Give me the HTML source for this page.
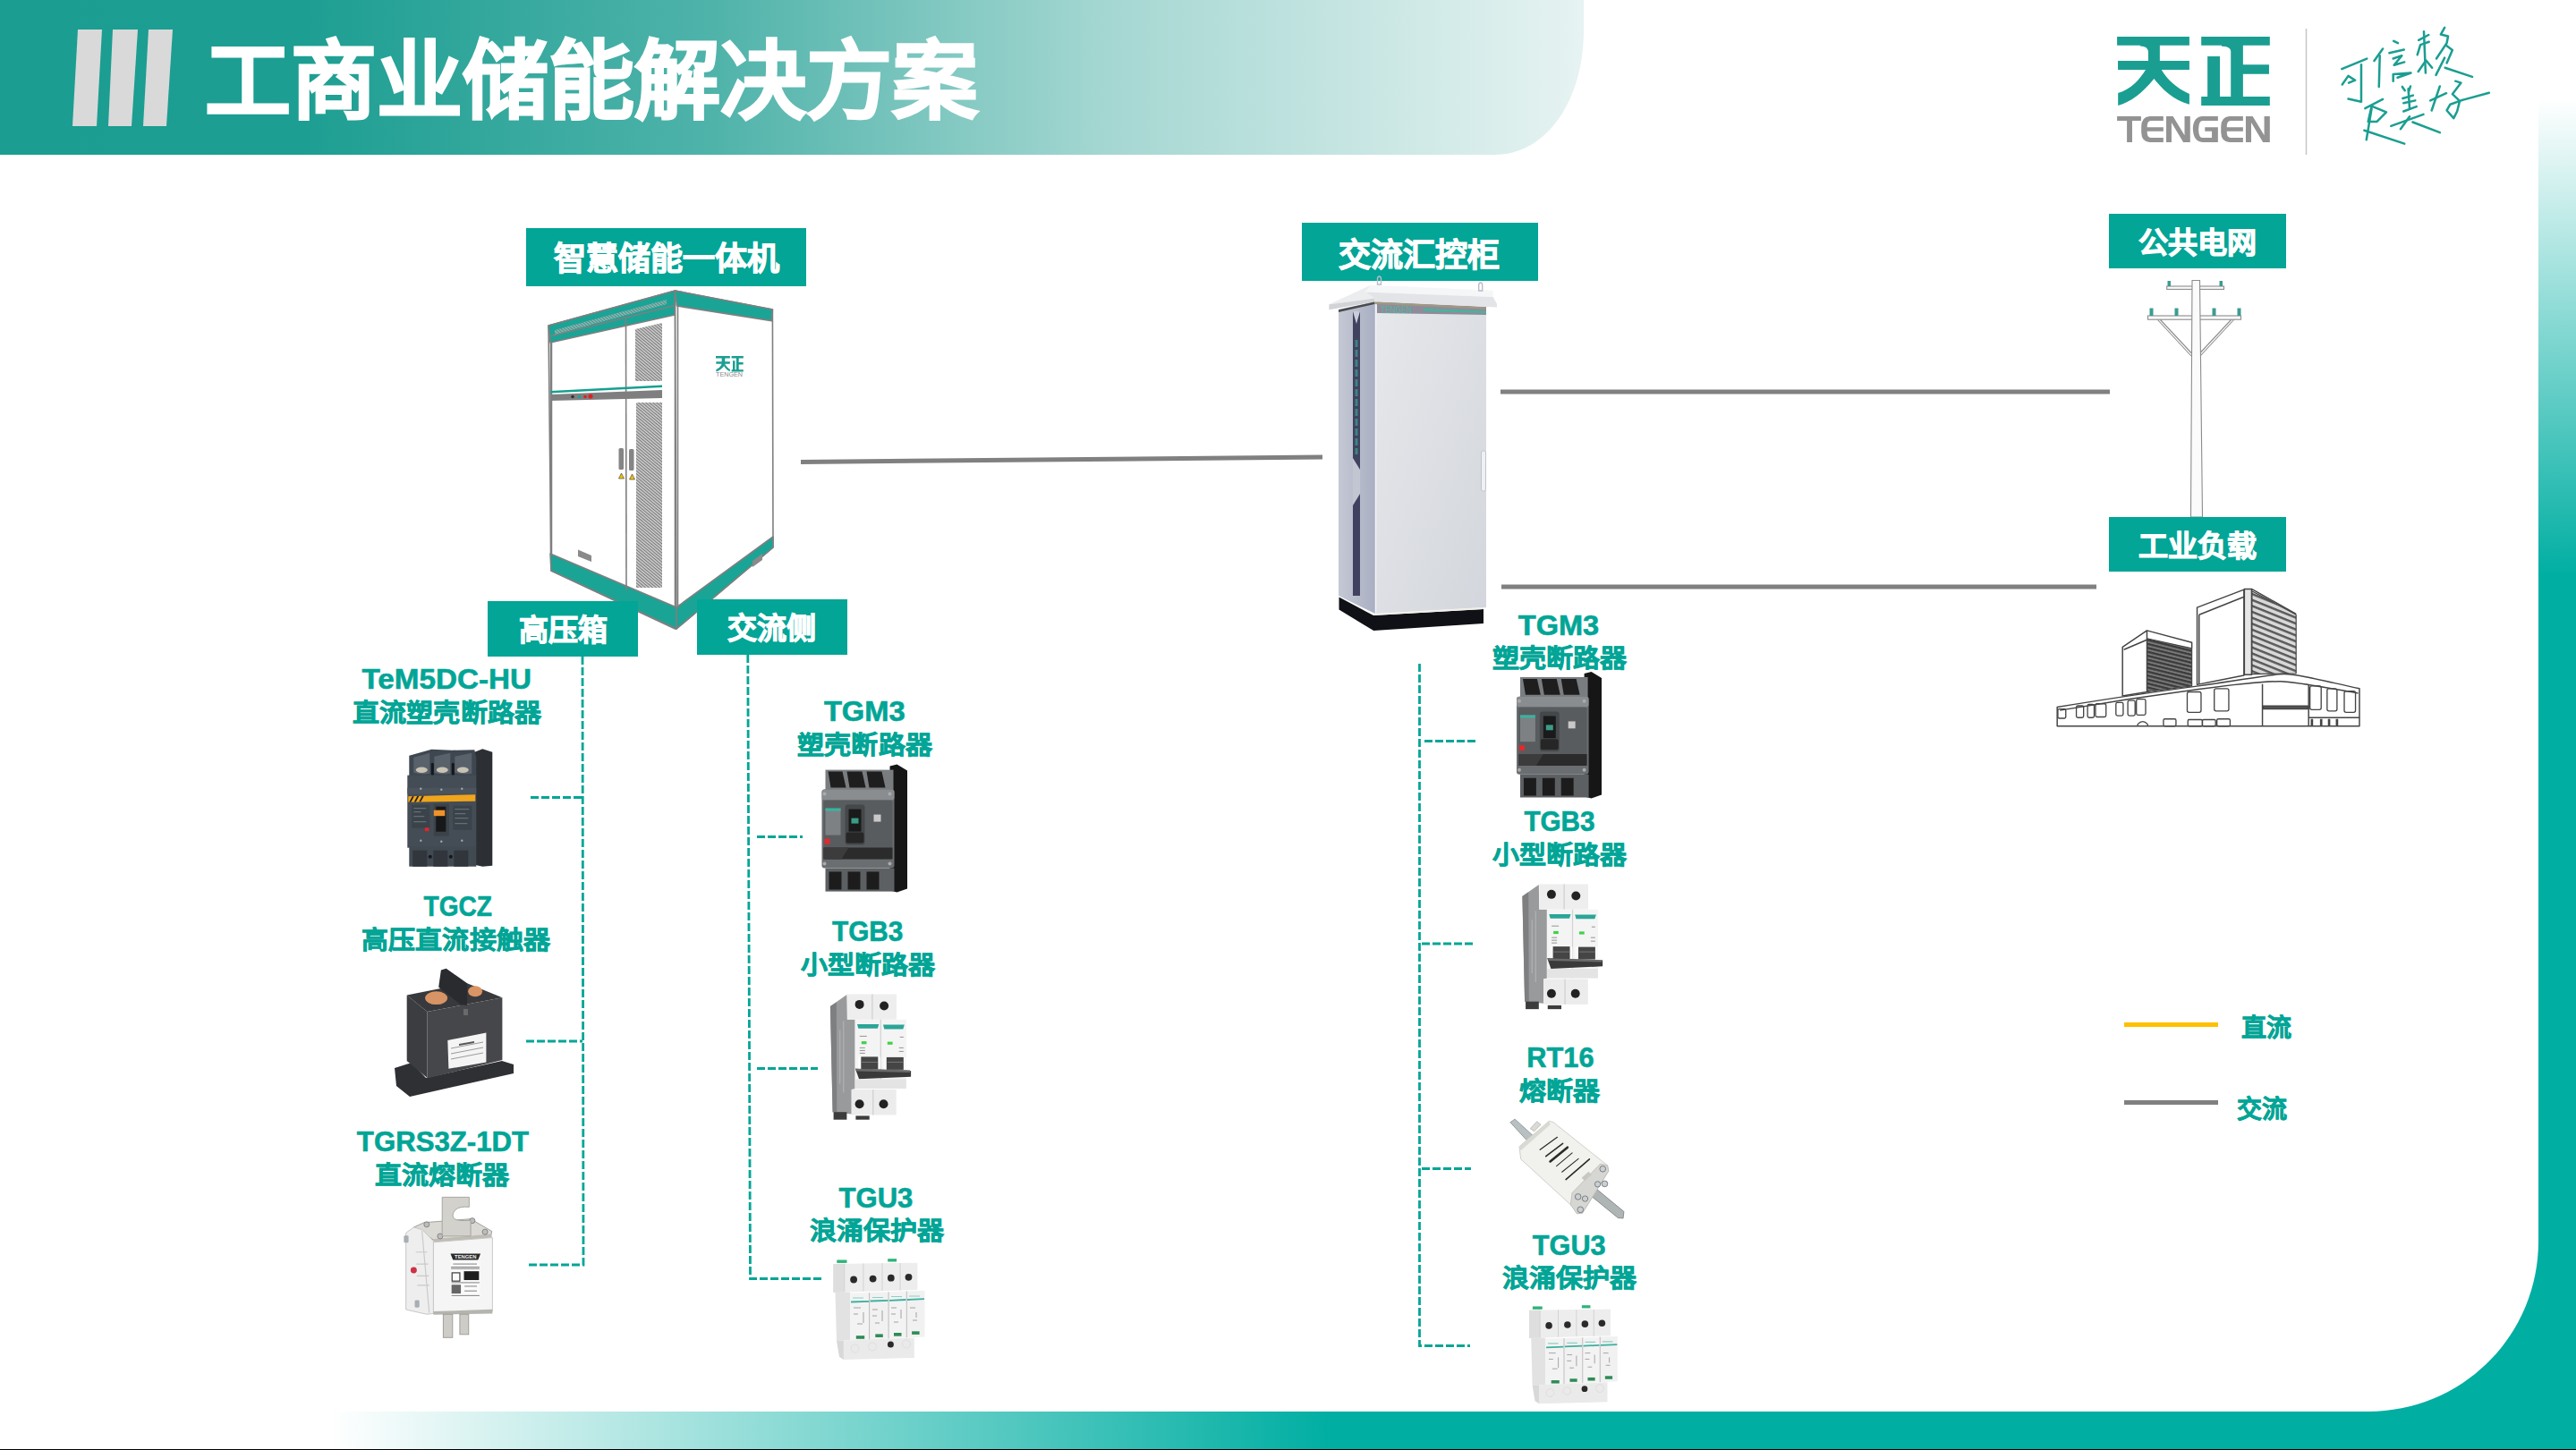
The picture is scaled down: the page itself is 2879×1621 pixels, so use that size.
<!DOCTYPE html>
<html lang="zh-CN"><head><meta charset="utf-8">
<style>
html,body{margin:0;padding:0;background:#fff;}
body{width:2879px;height:1621px;position:relative;overflow:hidden;font-family:"Liberation Sans",sans-serif;}
svg{position:absolute;left:0;top:0;}
.t{font-family:"Liberation Sans",sans-serif;font-weight:bold;}
</style></head>
<body>
<svg width="2879" height="1621" viewBox="0 0 2879 1621">

<defs>
<linearGradient id="hdr" x1="0" y1="0" x2="1770" y2="0" gradientUnits="userSpaceOnUse">
  <stop offset="0" stop-color="#1B9D91"/>
  <stop offset="0.19" stop-color="#1D9E92"/>
  <stop offset="0.45" stop-color="#4FB3AA"/>
  <stop offset="0.7" stop-color="#A5D7D2"/>
  <stop offset="1" stop-color="#E6F3F2"/>
</linearGradient>
<linearGradient id="rband" x1="0" y1="110" x2="0" y2="645" gradientUnits="userSpaceOnUse">
  <stop offset="0" stop-color="#FFFFFF"/>
  <stop offset="1" stop-color="#00AEA2"/>
</linearGradient>
<linearGradient id="bband" x1="370" y1="0" x2="1490" y2="0" gradientUnits="userSpaceOnUse">
  <stop offset="0" stop-color="#FFFFFF"/>
  <stop offset="1" stop-color="#00AEA2"/>
</linearGradient>
<pattern id="vent" width="2.6" height="2.6" patternUnits="userSpaceOnUse" patternTransform="rotate(40)">
  <rect width="2.6" height="2.6" fill="#D0D0D0"/>
  <rect width="2.6" height="1.1" fill="#777777"/>
</pattern>
<pattern id="louver" width="40" height="45" patternUnits="userSpaceOnUse" patternTransform="skewY(22)">
  <rect width="40" height="45" fill="#D8D8D8"/>
  <rect width="40" height="18" fill="#5A5A5A"/>
</pattern>
<pattern id="louver2" width="40" height="30" patternUnits="userSpaceOnUse" patternTransform="skewY(14)">
  <rect width="40" height="30" fill="#7A7A7A"/>
  <rect width="40" height="16" fill="#3A3A3A"/>
</pattern>
<linearGradient id="acside" x1="0" y1="0" x2="1" y2="0">
  <stop offset="0" stop-color="#C5C9D5"/>
  <stop offset="1" stop-color="#A9AFC2"/>
</linearGradient>
<linearGradient id="acfront" x1="0" y1="0" x2="1" y2="1">
  <stop offset="0" stop-color="#E6E8EB"/>
  <stop offset="1" stop-color="#D3D6DC"/>
</linearGradient>
</defs>

<path d="M0 0 H1770 V34 C1770 110 1730 173 1670 173 H0 Z" fill="url(#hdr)"/>
<polygon points="87,33 114,33 108,141 81,141" fill="#D9D9D9"/>
<polygon points="126,33 154,33 147,141 121,141" fill="#D9D9D9"/>
<polygon points="166,33 193,33 186,141 160,141" fill="#D9D9D9"/>
<path d="M2837 110 H2879 V1621 H0 V1578 H2647 A190 190 0 0 0 2837 1388 Z" fill="#00AEA2"/>
<rect x="2837" y="110" width="42" height="540" fill="url(#rband)"/>
<rect x="370" y="1578" width="1125" height="42" fill="url(#bband)"/>
<rect x="0" y="1578" width="370" height="42" fill="#fff"/>
<rect x="0" y="1620" width="2879" height="1" fill="#000"/>

<text class="t" x="229" y="124" font-size="96" fill="#fff" stroke="#fff" stroke-width="2">工商业储能解决方案</text>

<g transform="translate(2360,35) scale(0.071818)" fill="#1A9E91">
<path d="M85,85 H1210 V220 H85 Z M445,220 H750 V460 H570 V330 Q570,232 445,230 Z M98,460 H1210 V598 H98 Z M530,598 L780,598 L660,738 C480,960 300,1100 100,1155 V962 C300,900 430,760 530,598 Z M630,700 L770,590 C870,760 1000,880 1210,975 V1140 C950,1060 800,920 630,700 Z M1395,85 H2462 V220 H1395 Z M1712,220 H2045 V1020 H1855 V310 Q1855,232 1712,232 Z M2045,517 H2450 V665 H2045 Z M1492,390 H1685 V1020 H1492 Z M1395,1018 H2462 V1155 H1395 Z"/>
</g>
<g transform="translate(2360,120) scale(0.071818)" fill="#939393">
<path d="M85,140 H458 V208 H320 V542 H238 V208 H85 Z"/>
<path d="M805,140 H590 Q465,150 462,300 V390 Q465,532 590,542 H805 V475 H610 Q556,470 553,395 V372 H805 V310 H553 V290 Q556,212 610,208 H805 Z"/>
<path d="M850,140 H955 L1135,435 V140 H1222 V542 H1115 L932,235 V542 H850 Z"/>
<path d="M1655,140 H1415 Q1270,150 1265,330 Q1270,532 1415,542 H1655 V310 H1452 V372 H1560 V475 H1410 Q1356,468 1352,340 Q1356,212 1410,208 H1655 Z"/>
<path transform="translate(1240,0)" d="M805,140 H590 Q465,150 462,300 V390 Q465,532 590,542 H805 V475 H610 Q556,470 553,395 V372 H805 V310 H553 V290 Q556,212 610,208 H805 Z"/>
<path d="M2088,140 H2195 L2375,435 V140 H2462 V542 H2355 L2172,235 V542 H2088 Z"/>
</g>
<line x1="2577.5" y1="32" x2="2577.5" y2="173" stroke="#C4C4C4" stroke-width="1.5"/>

<g transform="translate(2610,25) scale(0.096562)" fill="none" stroke="#1A9E91" stroke-width="26" stroke-linecap="round" stroke-linejoin="round">
<polyline points="75,540 365,420"/>
<polyline points="80,720 150,620 230,670 155,700"/>
<polyline points="300,490 300,920 150,885"/>
<polyline points="550,305 450,445"/>
<polyline points="515,385 505,745"/>
<polyline points="675,215 725,240"/>
<polyline points="625,355 795,315"/>
<polyline points="670,420 770,385 680,495 800,460"/>
<polyline points="670,680 670,600 875,585 720,640"/>
<polyline points="965,205 1080,145"/>
<polyline points="1025,105 1045,585"/>
<polyline points="950,375 985,260 1085,225"/>
<polyline points="960,570 1050,440 1120,525"/>
<polyline points="1265,60 1220,140 1305,160 1290,240 1170,420"/>
<polyline points="1280,265 1355,320 1290,470"/>
<polyline points="1265,410 1165,610"/>
<polyline points="1270,525 1585,630"/>
<polyline points="345,995 550,890"/>
<polyline points="380,1150 420,970 590,1040 480,1150 380,1150"/>
<polyline points="420,1000 360,1360"/>
<polyline points="335,1250 800,1405"/>
<polyline points="775,745 805,790"/>
<polyline points="870,740 850,800"/>
<polyline points="780,880 900,845"/>
<polyline points="790,935 925,905"/>
<polyline points="790,1030 940,975"/>
<polyline points="845,770 860,1000"/>
<polyline points="645,1200 1020,1065"/>
<polyline points="860,1090 755,1235"/>
<polyline points="895,1155 1210,1275"/>
<polyline points="1210,740 1115,1020"/>
<polyline points="1100,905 1285,820"/>
<polyline points="1390,680 1455,700 1355,830 1440,910 1410,1030 1370,1110 1290,1020 1330,950 1470,900"/>
<polyline points="1470,900 1780,815"/>
</g>

<g id="ess" stroke="#7F7F7F" stroke-width="1.6" stroke-linejoin="round">
<polygon points="613,364 754.5,325 754.5,703 616,638" fill="#fff"/>
<polygon points="754.5,325 863.4,346 864,612 756,703" fill="#fff"/>
<polygon points="613,364 754.5,325 754,352 615,383" fill="#1AA496"/>
<polygon points="754.5,325 863.4,346 862.5,358.6 756.5,342" fill="#1AA496"/>
<polygon points="615,619 756,679 756,703 616,638" fill="#1AA496"/>
<polygon points="756,679 864,600 864,612 756,703" fill="#1AA496"/>
</g>
<g fill="none" stroke="#7F7F7F">
<line x1="614" y1="376" x2="754" y2="341.5" stroke-width="1.6"/>
<polygon points="620,369 745,335 745,340 620,374" fill="url(#vent)" stroke="none" opacity="0.6"/>
<line x1="699.5" y1="356" x2="700" y2="660" stroke-width="1.6"/>
<line x1="757.5" y1="342" x2="757.5" y2="680" stroke-width="1.6"/>
<line x1="616" y1="383" x2="616" y2="619" stroke-width="2.5"/>
</g>
<polygon points="710,368 740,361 740,426 710,426" fill="url(#vent)"/>
<rect x="711" y="450" width="29" height="207" fill="url(#vent)"/>
<polygon points="615,437 740,430.5 740,433 615,439.5" fill="#16A090"/>
<polygon points="615,441 740,436 740,445 615,448" fill="#7F7F7F"/>
<circle cx="640" cy="443.5" r="1.8" fill="#333"/>
<circle cx="647.5" cy="443.5" r="1.8" fill="#1AA496"/>
<circle cx="654" cy="443.5" r="1.8" fill="#E02020"/>
<circle cx="660" cy="443" r="2.6" fill="#E02020"/>
<rect x="691.5" y="501" width="5.5" height="24" rx="1.5" fill="#858585"/>
<rect x="703" y="502" width="5.5" height="24" rx="1.5" fill="#858585"/>
<polygon points="694.5,529 697.5,535 691.5,535" fill="#F2C200" stroke="#333" stroke-width="0.6"/>
<polygon points="706.5,530 709.5,536 703.5,536" fill="#F2C200" stroke="#333" stroke-width="0.6"/>
<polygon points="646,614.5 661,621 661,628 646,622" fill="#8A8A8A"/>
<polygon points="841,627 852,619 852,626 841,634" fill="#8A8A8A"/>
<g transform="translate(800,398) scale(0.176)" fill="#1A9E91">
<path d="M0,0 H90 V14 H0 Z M38,14 H58 V36 H38 Z M2,36 H90 V50 H2 Z M38,50 C30,68 18,80 2,86 V100 C22,94 40,80 52,64 L60,50 Z M52,64 C62,80 75,92 90,98 V84 C78,78 66,66 60,52 Z"/>
<path d="M100,0 H175 V14 H100 Z M130,14 H146 V86 H130 Z M146,40 H174 V54 H146 Z M108,30 H122 V86 H108 Z M100,86 H175 V100 H100 Z"/>
</g>
<text x="815" y="420.5" font-size="7.6" text-anchor="middle" fill="#8A8A8A" textLength="30" lengthAdjust="spacingAndGlyphs">TENGEN</text>

<g id="acc">
<polygon points="1496,346 1537,337 1537,686 1496,666" fill="url(#acside)"/>
<polygon points="1537,337 1661,343 1661,679 1537,686" fill="url(#acfront)"/>
<line x1="1537.5" y1="337" x2="1537.5" y2="686" stroke="#F4F4F6" stroke-width="1.5"/>
<polygon points="1539,337 1661,343 1661,352 1539,350" fill="#8F8B9B"/>
<text x="1543" y="350" font-size="11" fill="#4FB89F" textLength="35" lengthAdjust="spacingAndGlyphs">TENGEN</text>
<polygon points="1591,345 1661,348 1661,350 1591,347.5" fill="#3FB89A"/>
<polygon points="1512,348 1520,348 1520,666 1512,666" fill="#414260"/>
<polygon points="1512,348 1516,362 1520,348" fill="#C9CDD8"/>
<polygon points="1512,512 1520,525 1520,552 1512,565" fill="#C2C6D2"/>
<path d="M1516,380 V508" stroke="#3A9C88" stroke-width="3" stroke-dasharray="8 3" opacity="0.75"/>
<rect x="1655.5" y="504" width="5" height="45" rx="2" fill="#EEF0F4" stroke="#B8BCC6" stroke-width="0.8"/>
<polygon points="1485.4,340.3 1531.8,318.8 1526,326.5 1536.2,333.6" fill="#ECEDEF"/>
<polygon points="1531.8,318.8 1668.6,324.8 1668.6,332 1526,326.5" fill="#F5F6F7"/>
<polygon points="1526,326.5 1668.6,332 1673,339.7 1673,343.5 1536.2,337.5 1536.2,333.6" fill="#E3E4E7"/>
<polygon points="1485.4,340.3 1536.2,333.6 1536.2,337.5 1485.4,346.3" fill="#D2D3D6"/>
<polygon points="1496,346.3 1536.2,337.5 1536.2,340 1496,349" fill="#4A4B50"/>
<polygon points="1536.2,337.5 1661,343.5 1661,345.5 1536.2,340" fill="#A09882"/>
<polygon points="1496.5,667.6 1535,688 1658,681 1658,697 1535.2,705 1496.5,681.4" fill="#101116"/>
<polygon points="1535,686 1658,679 1658,681 1535,688" fill="#F0EFEA"/>
</g>

<g id="pole" stroke="#8C8C8C" stroke-width="1.1" fill="#FBFBFB">
<line x1="2411" y1="357" x2="2449" y2="398"/>
<line x1="2414" y1="357" x2="2449.5" y2="395"/>
<line x1="2497" y1="357" x2="2459" y2="398"/>
<line x1="2494" y1="357" x2="2458.5" y2="395"/>
<rect x="2421.7" y="320" width="63.8" height="3.4"/>
<rect x="2400.5" y="353" width="104" height="4.2"/>
<polygon points="2450,313.5 2458.5,313.5 2461.5,578 2448.5,578"/>
</g>
<g fill="#3C9C8F">
<rect x="2422.5" y="314" width="3.5" height="6"/>
<rect x="2480.5" y="314" width="3.5" height="6"/>
<rect x="2402.5" y="344.5" width="4" height="8.5"/>
<rect x="2430.5" y="344.5" width="4" height="8.5"/>
<rect x="2472.5" y="344.5" width="4" height="8.5"/>
<rect x="2500.5" y="344.5" width="4" height="8.5"/>
</g>

<g transform="translate(2280,640) scale(0.14751)" fill="none" stroke="#444" stroke-width="10" stroke-linejoin="round">
<polygon points="1605,140 1940,320 1940,765 1605,770" fill="url(#louver)" stroke-width="8"/>
<polygon points="810,500 1150,575 1150,860 810,905" fill="url(#louver2)" stroke-width="8"/>
<polygon points="1190,265 1545,130 1545,780 1190,850" fill="#fff"/>
<path d="M1205,320 L1545,185 M1205,320 V845"/>
<rect x="1548" y="125" width="55" height="650" fill="#E6E6E6"/>
<path d="M1603,125 L1940,315"/>
<polygon points="625,565 810,440 810,905 625,935" fill="#fff"/>
<path d="M635,585 L810,510 M810,440 L1150,530 L1150,575"/>
<path d="M130,1020 C500,960 900,900 1200,860 C1500,820 1750,770 1850,770 C1950,770 2100,810 2420,880 V1165 H130 Z" fill="#fff"/>
<path d="M150,1045 C500,985 900,925 1200,885 C1500,845 1720,825 1820,825 C1920,825 2100,860 2410,915"/>
<path d="M1685,845 V1165 M2035,855 V1165 M2035,1100 H2420"/>
<rect x="1690" y="1012" width="340" height="22" fill="#555"/>
<g stroke-width="9">
<rect x="275" y="1010" width="55" height="90" rx="12"/>
<rect x="360" y="1000" width="50" height="100" rx="12"/>
<rect x="420" y="995" width="80" height="100" rx="12"/>
<rect x="575" y="985" width="55" height="100" rx="12"/>
<rect x="665" y="970" width="55" height="115" rx="12"/>
<rect x="730" y="960" width="70" height="120" rx="12"/>
<rect x="1115" y="905" width="105" height="155" rx="14"/>
<rect x="1320" y="880" width="110" height="170" rx="14"/>
<rect x="2045" y="860" width="85" height="180" rx="14"/>
<rect x="2175" y="880" width="75" height="170" rx="14"/>
<rect x="2305" y="900" width="85" height="160" rx="14"/>
<rect x="135" y="1035" width="60" height="70" rx="10"/>
<path d="M740,1165 V1150 Q778,1110 815,1150 V1165"/>
<rect x="935" y="1110" width="95" height="55" rx="10"/>
<rect x="1120" y="1115" width="110" height="50" rx="10"/>
<rect x="1230" y="1115" width="100" height="50" rx="10"/>
<rect x="1340" y="1110" width="100" height="55" rx="10"/>
<path d="M2060,1110 V1165 M2130,1110 V1165 M2190,1110 V1165 M2250,1110 V1165" stroke-width="18"/>
</g>
</g>

<g transform="translate(918.5,854.6)">
<polygon points="76,2 84,0 95.5,7 95.5,139 84,143 76,141" fill="#161616"/>
<rect x="4" y="6" width="76" height="24" fill="#7A7D80"/>
<path d="M7,8 H23 L27,26 H10 Z M28,8 H45 L49,26 H31 Z M50,8 H67 L71,26 H53 Z" fill="#1E1E1E"/>
<rect x="0" y="28" width="81" height="88" rx="3" fill="#6B6E71"/>
<rect x="0" y="28" width="81" height="12" rx="3" fill="#8A8D90"/>
<rect x="2" y="40" width="77" height="66" rx="2" fill="#595C5F"/>
<rect x="4" y="49" width="17" height="30" fill="#7E8184"/>
<rect x="4" y="49" width="17" height="3" fill="#35B59F"/>
<rect x="26" y="45" width="22" height="45" rx="3" fill="#45484B"/>
<rect x="30" y="50" width="14" height="25" fill="#1A1A1A"/>
<rect x="33" y="60" width="8" height="6" fill="#3A9C86"/>
<rect x="27" y="76" width="20" height="12" rx="2" fill="#262626"/>
<rect x="3" y="83" width="6" height="6" fill="#E02A2E"/>
<path d="M58,56 h8 v8 h-8 z" fill="#C8C8C8"/>
<polygon points="2,93 79,93 79,106 2,106" fill="#2B2B2B"/>
<polygon points="2,93 30,93 22,106 2,106" fill="#3C3C3C"/>
<rect x="4" y="116" width="77" height="26" fill="#5D6063"/>
<path d="M8,120 h14 v20 h-14 z M29,120 h14 v20 h-14 z M50,120 h14 v20 h-14 z" fill="#1C1C1C"/>
<circle cx="3" cy="33" r="2" fill="#aaa"/><circle cx="76" cy="33" r="2" fill="#aaa"/>
<circle cx="3" cy="111" r="2" fill="#aaa"/><circle cx="76" cy="111" r="2" fill="#aaa"/>
</g>
<g transform="translate(1695,751) scale(0.9948,0.9895)">
<polygon points="76,2 84,0 95.5,7 95.5,139 84,143 76,141" fill="#161616"/>
<rect x="4" y="6" width="76" height="24" fill="#7A7D80"/>
<path d="M7,8 H23 L27,26 H10 Z M28,8 H45 L49,26 H31 Z M50,8 H67 L71,26 H53 Z" fill="#1E1E1E"/>
<rect x="0" y="28" width="81" height="88" rx="3" fill="#6B6E71"/>
<rect x="0" y="28" width="81" height="12" rx="3" fill="#8A8D90"/>
<rect x="2" y="40" width="77" height="66" rx="2" fill="#595C5F"/>
<rect x="4" y="49" width="17" height="30" fill="#7E8184"/>
<rect x="4" y="49" width="17" height="3" fill="#35B59F"/>
<rect x="26" y="45" width="22" height="45" rx="3" fill="#45484B"/>
<rect x="30" y="50" width="14" height="25" fill="#1A1A1A"/>
<rect x="33" y="60" width="8" height="6" fill="#3A9C86"/>
<rect x="27" y="76" width="20" height="12" rx="2" fill="#262626"/>
<rect x="3" y="83" width="6" height="6" fill="#E02A2E"/>
<path d="M58,56 h8 v8 h-8 z" fill="#C8C8C8"/>
<polygon points="2,93 79,93 79,106 2,106" fill="#2B2B2B"/>
<polygon points="2,93 30,93 22,106 2,106" fill="#3C3C3C"/>
<rect x="4" y="116" width="77" height="26" fill="#5D6063"/>
<path d="M8,120 h14 v20 h-14 z M29,120 h14 v20 h-14 z M50,120 h14 v20 h-14 z" fill="#1C1C1C"/>
<circle cx="3" cy="33" r="2" fill="#aaa"/><circle cx="76" cy="33" r="2" fill="#aaa"/>
<circle cx="3" cy="111" r="2" fill="#aaa"/><circle cx="76" cy="111" r="2" fill="#aaa"/>
</g>
<g transform="translate(455.3,836.7)">
<polygon points="75,4 84,0.5 95,4 95,131 84,132 75,130" fill="#2C3034"/>
<polygon points="2,8 27,1 50,2 75,1.5 77,10 77,32 2,32" fill="#3E464F"/>
<path d="M7,10 L25,5 V28 Q16,30 7,27 Z M30,9 L48,5 V28 Q39,30 30,27 Z M53,9 L72,5 V28 Q63,30 53,27 Z" fill="#59626B"/>
<ellipse cx="16" cy="24" rx="6.5" ry="3.2" fill="#C9C3B5"/><ellipse cx="39" cy="24" rx="6.5" ry="3.2" fill="#C9C3B5"/><ellipse cx="62" cy="24" rx="6.5" ry="3.2" fill="#C9C3B5"/>
<rect x="26.5" y="16" width="3" height="14" rx="1.5" fill="#15171A"/><rect x="49.5" y="16" width="3" height="14" rx="1.5" fill="#15171A"/>
<rect x="0" y="30" width="77" height="81" fill="#444C55"/>
<rect x="0" y="44" width="77" height="7" fill="#4B535C"/>
<polygon points="1,53.5 76,51.5 76,59 1,60" fill="#F0A51C"/>
<path d="M2,60 l3.5,-6.5 h2 l-3.5,6.5 z M7.5,59.8 l3.5,-6.5 h2 l-3.5,6.5 z M13,59.6 l3.5,-6.5 h2 l-3.5,6.5 z" fill="#222"/>
<rect x="5" y="63" width="20" height="26" fill="#3A424A"/>
<path d="M7,67 h14 M7,71 h8 M7,76 h12 M7,82 h14" stroke="#7E868E" stroke-width="0.8"/>
<rect x="29.5" y="62" width="17" height="36" fill="#3B4248"/>
<rect x="32" y="65" width="11" height="28" fill="#161819"/>
<rect x="29.5" y="69" width="12.5" height="6.5" fill="#F0922A"/>
<rect x="51" y="64" width="21" height="27" fill="#3A424A"/>
<path d="M53,68 h16 M53,73 h12 M53,78 h15 M53,84 h14" stroke="#7E868E" stroke-width="0.8"/>
<rect x="19.5" y="88.5" width="4.5" height="4" fill="#E0262B"/>
<rect x="2" y="110" width="75" height="22" fill="#414951"/>
<path d="M6,114 h16 v18 h-16 z M29,114 h16 v18 h-16 z M52,114 h16 v18 h-16 z" fill="#30363C"/>
<circle cx="25.5" cy="121" r="2" fill="#15171A"/><circle cx="48.5" cy="121" r="2" fill="#15171A"/>
<circle cx="15" cy="45" r="1.2" fill="#9AA"/><circle cx="38" cy="46" r="1.2" fill="#9AA"/><circle cx="61" cy="45" r="1.2" fill="#9AA"/>
<circle cx="15" cy="103" r="1.2" fill="#9AA"/><circle cx="38" cy="104" r="1.2" fill="#9AA"/><circle cx="61" cy="103" r="1.2" fill="#9AA"/>
</g>

<g id="contactor">
<polygon points="441,1194 460,1188 476,1205 561,1186 574,1190 574,1200 458,1226 443,1214" fill="#2F3033"/>
<polygon points="454.7,1112.5 522.1,1099.2 561.4,1115.2 477.5,1131.1" fill="#38393C"/>
<polygon points="454.7,1112.5 477.5,1131.1 477.5,1205 454.7,1186" fill="#3C3D40"/>
<polygon points="477.5,1131.1 561.4,1115.2 561.4,1185 477.5,1205.5" fill="#46474B"/>
<ellipse cx="487.6" cy="1115.7" rx="12.5" ry="7.4" fill="#D89464"/>
<ellipse cx="531.1" cy="1108.3" rx="8" ry="6" fill="#D89464"/>
<polygon points="492.9,1084.4 498.7,1082.8 522.1,1099.2 522.1,1123.7 515.7,1123.7 490.2,1103.5" fill="#2A2B2E"/>
<polygon points="500.3,1163 543.4,1154.5 543.4,1187.4 501.4,1194.8" fill="#F4F4F4"/>
<path d="M504,1172 L540,1165 M504,1178 L540,1171 M504,1184 L540,1177" stroke="#999" stroke-width="1"/>
<polygon points="513,1167 530,1164 530,1166 513,1169" fill="#555"/>
<rect x="518" y="1128" width="5" height="7" fill="#6A6A6A"/>
</g>

<g id="dcfuse" transform="translate(445,1332) scale(0.115808)">
<polygon points="150,345 250,300 700,265 905,385 895,425 345,470" fill="#DAD9D3" stroke="#9C9B96" stroke-width="8"/>
<polygon points="340,460 900,410 905,450 345,500" fill="#BEBCB4"/>
<g fill="#BDBDBD" stroke="#7F7F7F" stroke-width="8">
<circle cx="275" cy="318" r="26"/><circle cx="715" cy="282" r="26"/><circle cx="405" cy="432" r="26"/>
<circle cx="838" cy="390" r="26"/><circle cx="575" cy="382" r="24"/><circle cx="545" cy="345" r="22"/>
</g>
<path d="M425,55 H685 V150 Q590,140 550,180 Q510,230 540,262 Q575,290 700,278 V430 H425 Z" fill="#D2D1CC" stroke="#A3A29D" stroke-width="8"/>
<polygon points="340,490 910,445 910,1155 340,1178" fill="#F5F5F5" stroke="#C6C6C6" stroke-width="8"/>
<polygon points="75,400 150,345 235,370 340,480 340,1178 275,1185 75,1140" fill="#EEEEEE" stroke="#C4C4C4" stroke-width="8"/>
<path d="M170,585 H280 M175,700 H290 M180,815 H295 M185,905 H300 M230,380 L300,1170" stroke="#C9C9C9" stroke-width="10" fill="none"/>
<circle cx="150" cy="760" r="30" fill="#CC3344"/>
<rect x="55" y="425" width="45" height="70" rx="12" fill="#A8AEB4"/>
<rect x="160" y="1050" width="45" height="70" rx="12" fill="#A8AEB4"/>
<polygon points="505,600 795,600 770,662 530,662" fill="#2A2A2A"/>
<text x="650" y="650" font-size="50" font-weight="bold" fill="#F0F0F0" text-anchor="middle" textLength="210" lengthAdjust="spacingAndGlyphs">TENGEN</text>
<rect x="505" y="662" width="285" height="370" fill="#FAFAFA"/>
<path d="M530,700 H760 M510,730 H785 M510,745 H785 M515,880 H785 M640,915 H760 M640,960 H760 M515,1005 H785" stroke="#777" stroke-width="8"/>
<rect x="635" y="770" width="145" height="85" fill="#1E1E1E"/>
<rect x="520" y="785" width="75" height="80" fill="none" stroke="#333" stroke-width="10"/>
<rect x="515" y="900" width="90" height="85" fill="#666"/>
<polygon points="340,1158 910,1138 910,1178 340,1190" fill="#B6B4AE"/>
<rect x="435" y="1185" width="90" height="225" fill="#CDCCC7" stroke="#9A9994" stroke-width="8"/>
<rect x="595" y="1185" width="85" height="195" fill="#CDCCC7" stroke="#9A9994" stroke-width="8"/>
</g>

<g transform="translate(926.8,1111.4)">
<polygon points="1.1,13.7 19.6,0.5 20.1,28.4 29.1,28.4 29.1,105.5 24.9,106.5 24.9,134 3.8,131.8" fill="#999A9C"/>
<polygon points="1.1,13.7 8,9 8.5,132.5 3.8,131.8" fill="#7E7F81"/>
<path d="M12,40 v60 M16,30 v80" stroke="#B5B6B8" stroke-width="1"/>
<rect x="20.1" y="0" width="55" height="28.4" fill="#EEEEEE"/>
<line x1="48.1" y1="0" x2="48.1" y2="28.4" stroke="#CFCFCF" stroke-width="1.2"/>
<circle cx="33.8" cy="11.5" r="5" fill="#222"/><circle cx="61.3" cy="13.1" r="5" fill="#222"/>
<rect x="28.6" y="28.4" width="57.5" height="77.1" fill="#F4F4F4"/>
<line x1="57.5" y1="28.4" x2="57.5" y2="105.5" stroke="#D2D2D2" stroke-width="1.2"/>
<polygon points="31.2,33.7 55.5,33.7 54,38.4 32.5,38.4" fill="#2BA597"/>
<polygon points="60.2,34.2 84,34.2 82.5,39 61.5,39" fill="#2BA597"/>
<rect x="36" y="52.7" width="5.7" height="3.2" fill="#3FD24A"/><rect x="65" y="53.2" width="5.8" height="3.2" fill="#3FD24A"/>
<path d="M34,47 h8 M34,60 h6 M34,63 h6 M34,66 h6 M79,48 h4 M78,60 h5 M78,64 h5" stroke="#888" stroke-width="0.9"/>
<rect x="32" y="69.6" width="25.5" height="15" rx="2" fill="#FAFAFA"/>
<rect x="35.5" y="70" width="19" height="14" fill="#454545"/>
<rect x="60.5" y="70.1" width="25.5" height="15" rx="2" fill="#FAFAFA"/>
<rect x="64" y="70.5" width="19" height="14" fill="#454545"/>
<path d="M36,76 h18 M65,76 h18" stroke="#777" stroke-width="1"/>
<polygon points="29.1,83.3 91.3,85.4 91.3,92.3 33.3,94.9" fill="#3A3A3A"/>
<polygon points="29.1,83.3 91.3,85.4 90,87.5 31,86" fill="#6A6A6A"/>
<rect x="29" y="95" width="57" height="10.5" fill="#E4E4E4"/>
<rect x="24.9" y="106.5" width="50" height="28.5" fill="#ECECEC"/>
<line x1="49" y1="106.5" x2="49" y2="135" stroke="#CFCFCF" stroke-width="1.2"/>
<circle cx="33.8" cy="122.9" r="5" fill="#222"/><circle cx="60.7" cy="122.9" r="5" fill="#222"/>
<rect x="4.8" y="131.8" width="14.8" height="8.5" fill="#3C3C3C"/>
<rect x="29.6" y="136" width="15.3" height="4.3" fill="#3C3C3C"/>
</g>
<g transform="translate(1700.3,988.4) scale(0.995,0.996)">
<polygon points="1.1,13.7 19.6,0.5 20.1,28.4 29.1,28.4 29.1,105.5 24.9,106.5 24.9,134 3.8,131.8" fill="#999A9C"/>
<polygon points="1.1,13.7 8,9 8.5,132.5 3.8,131.8" fill="#7E7F81"/>
<path d="M12,40 v60 M16,30 v80" stroke="#B5B6B8" stroke-width="1"/>
<rect x="20.1" y="0" width="55" height="28.4" fill="#EEEEEE"/>
<line x1="48.1" y1="0" x2="48.1" y2="28.4" stroke="#CFCFCF" stroke-width="1.2"/>
<circle cx="33.8" cy="11.5" r="5" fill="#222"/><circle cx="61.3" cy="13.1" r="5" fill="#222"/>
<rect x="28.6" y="28.4" width="57.5" height="77.1" fill="#F4F4F4"/>
<line x1="57.5" y1="28.4" x2="57.5" y2="105.5" stroke="#D2D2D2" stroke-width="1.2"/>
<polygon points="31.2,33.7 55.5,33.7 54,38.4 32.5,38.4" fill="#2BA597"/>
<polygon points="60.2,34.2 84,34.2 82.5,39 61.5,39" fill="#2BA597"/>
<rect x="36" y="52.7" width="5.7" height="3.2" fill="#3FD24A"/><rect x="65" y="53.2" width="5.8" height="3.2" fill="#3FD24A"/>
<path d="M34,47 h8 M34,60 h6 M34,63 h6 M34,66 h6 M79,48 h4 M78,60 h5 M78,64 h5" stroke="#888" stroke-width="0.9"/>
<rect x="32" y="69.6" width="25.5" height="15" rx="2" fill="#FAFAFA"/>
<rect x="35.5" y="70" width="19" height="14" fill="#454545"/>
<rect x="60.5" y="70.1" width="25.5" height="15" rx="2" fill="#FAFAFA"/>
<rect x="64" y="70.5" width="19" height="14" fill="#454545"/>
<path d="M36,76 h18 M65,76 h18" stroke="#777" stroke-width="1"/>
<polygon points="29.1,83.3 91.3,85.4 91.3,92.3 33.3,94.9" fill="#3A3A3A"/>
<polygon points="29.1,83.3 91.3,85.4 90,87.5 31,86" fill="#6A6A6A"/>
<rect x="29" y="95" width="57" height="10.5" fill="#E4E4E4"/>
<rect x="24.9" y="106.5" width="50" height="28.5" fill="#ECECEC"/>
<line x1="49" y1="106.5" x2="49" y2="135" stroke="#CFCFCF" stroke-width="1.2"/>
<circle cx="33.8" cy="122.9" r="5" fill="#222"/><circle cx="60.7" cy="122.9" r="5" fill="#222"/>
<rect x="4.8" y="131.8" width="14.8" height="8.5" fill="#3C3C3C"/>
<rect x="29.6" y="136" width="15.3" height="4.3" fill="#3C3C3C"/>
</g>
<g transform="translate(930,1407)">
<polygon points="1.3,6 95.4,4.7 95.4,35.1 1.3,38" fill="#EDEDED"/>
<polygon points="1.3,6 13.8,5.8 13.8,37.6 1.3,38" fill="#DEDEDE"/>
<path d="M13.8,6 V37 M34.9,5.5 V36.5 M56,5.2 V36 M76.1,5 V35.5" stroke="#D0D0D0" stroke-width="0.9"/>
<rect x="5.3" y="1.5" width="11.2" height="3.4" fill="#2DB37A"/><rect x="62.2" y="0.2" width="9.9" height="3.3" fill="#2DB37A"/>
<circle cx="24.1" cy="23.5" r="3.9" fill="#2A2A2A"/><circle cx="45.6" cy="22.6" r="3.9" fill="#2A2A2A"/>
<circle cx="65.8" cy="21.7" r="3.9" fill="#2A2A2A"/><circle cx="85.5" cy="20.8" r="3.9" fill="#2A2A2A"/>
<polygon points="3.5,37 20.1,37.8 20.1,91 5,92" fill="#E2E2E2"/>
<polygon points="20.1,38.5 41.6,38 41.6,90.7 20.1,91.2" fill="#F3F3F3"/>
<polygon points="41.6,38 63.1,37.3 63.1,89.5 41.6,90.7" fill="#F1F1F1"/>
<polygon points="63.1,37.3 83.3,36.5 83.3,88.5 63.1,89.5" fill="#F3F3F3"/>
<polygon points="83.3,36.5 103.5,35.8 103.5,87.5 83.3,88.5" fill="#F1F1F1"/>
<path d="M41.6,38 V90.7 M63.1,37.3 V89.5 M83.3,36.5 V88.5" stroke="#BDBDBD" stroke-width="1"/>
<path d="M21,48.5 L41,47.8 M42.5,47.5 L62.5,46.8 M64,46.8 L82.5,46 M84,46 L103,45.2" stroke="#3DAF9F" stroke-width="1.8"/>
<path d="M23,44 h12 M45,43.5 h12 M66,42.5 h12 M86,42 h12" stroke="#8ACFC4" stroke-width="1.2"/>
<path d="M24,55 h8 M24,62 h5 M35,60 v12 M45,57 h6 M45,64 h5 M56,58 v12 M66,55 h6 M66,62 h5 M77,57 v10 M87,55 h6 M94,60 v6 M28,73 h6 M48,72 h5 M69,71 h5 M90,69 h5" stroke="#9A9A9A" stroke-width="0.9"/>
<rect x="26.8" y="86.2" width="9.4" height="3.6" fill="#2E8B57"/><rect x="48.3" y="84.4" width="8.5" height="3.6" fill="#2E8B57"/>
<rect x="69" y="83" width="8.5" height="3.7" fill="#2E8B57"/><rect x="89.1" y="81.3" width="8.5" height="3.6" fill="#2E8B57"/>
<polygon points="12.9,91.5 91.8,88.5 91.8,111 12.9,113.1" fill="#EAEAEA"/>
<polygon points="5,92 12.9,91.5 12.9,113 8,110" fill="#D8D8D8"/>
<circle cx="25.5" cy="100.5" r="4.5" fill="none" stroke="#DADADA" stroke-width="0.8"/>
<circle cx="45" cy="98.5" r="4.5" fill="none" stroke="#DADADA" stroke-width="0.8"/>
<circle cx="83" cy="95.5" r="4.5" fill="none" stroke="#DADADA" stroke-width="0.8"/>
<circle cx="65.4" cy="96.1" r="3.5" fill="#2A2A2A"/>
</g>
<g transform="translate(1707.8,1459) scale(0.966,0.975)">
<polygon points="1.3,6 95.4,4.7 95.4,35.1 1.3,38" fill="#EDEDED"/>
<polygon points="1.3,6 13.8,5.8 13.8,37.6 1.3,38" fill="#DEDEDE"/>
<path d="M13.8,6 V37 M34.9,5.5 V36.5 M56,5.2 V36 M76.1,5 V35.5" stroke="#D0D0D0" stroke-width="0.9"/>
<rect x="5.3" y="1.5" width="11.2" height="3.4" fill="#2DB37A"/><rect x="62.2" y="0.2" width="9.9" height="3.3" fill="#2DB37A"/>
<circle cx="24.1" cy="23.5" r="3.9" fill="#2A2A2A"/><circle cx="45.6" cy="22.6" r="3.9" fill="#2A2A2A"/>
<circle cx="65.8" cy="21.7" r="3.9" fill="#2A2A2A"/><circle cx="85.5" cy="20.8" r="3.9" fill="#2A2A2A"/>
<polygon points="3.5,37 20.1,37.8 20.1,91 5,92" fill="#E2E2E2"/>
<polygon points="20.1,38.5 41.6,38 41.6,90.7 20.1,91.2" fill="#F3F3F3"/>
<polygon points="41.6,38 63.1,37.3 63.1,89.5 41.6,90.7" fill="#F1F1F1"/>
<polygon points="63.1,37.3 83.3,36.5 83.3,88.5 63.1,89.5" fill="#F3F3F3"/>
<polygon points="83.3,36.5 103.5,35.8 103.5,87.5 83.3,88.5" fill="#F1F1F1"/>
<path d="M41.6,38 V90.7 M63.1,37.3 V89.5 M83.3,36.5 V88.5" stroke="#BDBDBD" stroke-width="1"/>
<path d="M21,48.5 L41,47.8 M42.5,47.5 L62.5,46.8 M64,46.8 L82.5,46 M84,46 L103,45.2" stroke="#3DAF9F" stroke-width="1.8"/>
<path d="M23,44 h12 M45,43.5 h12 M66,42.5 h12 M86,42 h12" stroke="#8ACFC4" stroke-width="1.2"/>
<path d="M24,55 h8 M24,62 h5 M35,60 v12 M45,57 h6 M45,64 h5 M56,58 v12 M66,55 h6 M66,62 h5 M77,57 v10 M87,55 h6 M94,60 v6 M28,73 h6 M48,72 h5 M69,71 h5 M90,69 h5" stroke="#9A9A9A" stroke-width="0.9"/>
<rect x="26.8" y="86.2" width="9.4" height="3.6" fill="#2E8B57"/><rect x="48.3" y="84.4" width="8.5" height="3.6" fill="#2E8B57"/>
<rect x="69" y="83" width="8.5" height="3.7" fill="#2E8B57"/><rect x="89.1" y="81.3" width="8.5" height="3.6" fill="#2E8B57"/>
<polygon points="12.9,91.5 91.8,88.5 91.8,111 12.9,113.1" fill="#EAEAEA"/>
<polygon points="5,92 12.9,91.5 12.9,113 8,110" fill="#D8D8D8"/>
<circle cx="25.5" cy="100.5" r="4.5" fill="none" stroke="#DADADA" stroke-width="0.8"/>
<circle cx="45" cy="98.5" r="4.5" fill="none" stroke="#DADADA" stroke-width="0.8"/>
<circle cx="83" cy="95.5" r="4.5" fill="none" stroke="#DADADA" stroke-width="0.8"/>
<circle cx="65.4" cy="96.1" r="3.5" fill="#2A2A2A"/>
</g>
<g id="rt16" transform="translate(1680,1245) scale(0.087612)">
<polygon points="90,110 150,70 380,280 310,350" fill="#B9C0C1" stroke="#8E9496" stroke-width="10"/>
<polygon points="1060,1000 1140,920 1540,1250 1530,1335 1465,1330" fill="#AFB4B5" stroke="#7E8384" stroke-width="10"/>
<polygon points="205,420 585,95 640,110 1330,660 1345,730 1010,1270 940,1275 880,1180 225,580" fill="#F1F1ED" stroke="#C9C9C4" stroke-width="10"/>
<polygon points="345,190 430,100 480,140 395,225" fill="#DADAD5" stroke="#AAA" stroke-width="8"/>
<polygon points="205,420 585,95 600,140 225,470" fill="#D9D9D4"/>
<polygon points="880,1010 1240,640 1330,660 1345,730 1010,1270 940,1275 860,1160" fill="#D6D6D2" stroke="#B5B5B0" stroke-width="8"/>
<polygon points="1000,820 1090,740 1130,780 1040,860" fill="#C8C8C3"/>
<g fill="#C9CFD2" stroke="#6F7577" stroke-width="10">
<circle cx="1270" cy="705" r="38"/><circle cx="1295" cy="895" r="38"/><circle cx="1205" cy="900" r="36"/>
<circle cx="955" cy="1060" r="38"/><circle cx="1045" cy="1085" r="36"/><circle cx="985" cy="1225" r="38"/>
</g>
<g stroke="#2A2A2A" stroke-linecap="round">
<path d="M470,460 L690,300" stroke-width="14"/>
<path d="M545,545 L760,380" stroke-width="18"/>
<path d="M600,610 L820,430" stroke-width="30"/>
<path d="M680,670 L880,500" stroke-width="12"/>
<path d="M750,745 L960,575" stroke-width="12"/>
<path d="M800,840 L1100,580" stroke-width="18"/>
</g>
</g>

<g fill="#02A596">
<rect x="588" y="255" width="313" height="65"/>
<rect x="545" y="672" width="168" height="62"/>
<rect x="779" y="670" width="168" height="62"/>
<rect x="1455" y="249" width="264" height="65"/>
<rect x="2357" y="239" width="198" height="61"/>
<rect x="2357" y="578" width="198" height="61"/>
</g>
<path d="M1539.5,318 V312 A2,3 0 0 1 1543.5,312 V318 Z" fill="none" stroke="#B8BCC8" stroke-width="1.4"/>
<path d="M1652.7,325 V319 A2,3 0 0 1 1656.7,319 V325 Z" fill="none" stroke="#B8BCC8" stroke-width="1.4"/>
<g class="t" fill="#fff" stroke="#fff" stroke-width="1.1" text-anchor="middle">
<text x="744.5" y="302" font-size="36">智慧储能一体机</text>
<text x="629" y="716" font-size="33">高压箱</text>
<text x="862" y="714" font-size="33">交流侧</text>
<text x="1586" y="298" font-size="36">交流汇控柜</text>
<text x="2456" y="283" font-size="33">公共电网</text>
<text x="2456" y="622" font-size="33">工业负载</text>
</g>
<g stroke="#808080" stroke-width="5" fill="none">
<line x1="895" y1="516.5" x2="1478" y2="511"/>
<line x1="1677" y1="438" x2="2358" y2="438"/>
<line x1="1678" y1="656" x2="2343" y2="656"/>
</g>
<rect x="2374" y="1143" width="105" height="5" fill="#FFC000"/>
<rect x="2374" y="1230" width="105" height="5" fill="#808080"/>
<g class="t" fill="#02A596" stroke="#02A596" stroke-width="0.6">
<text x="2505" y="1159" font-size="28">直流</text>
<text x="2500" y="1250" font-size="28">交流</text>
</g>
<g stroke="#02A596" stroke-width="2.8" fill="none" stroke-dasharray="9 3">
<path d="M651 734 L652 1414 H588"/>
<path d="M593 891.5 H651"/>
<path d="M588 1164 H651"/>
<path d="M835.8 732 L838.5 1429.5 H920"/>
<path d="M846 935.5 H897"/>
<path d="M846 1194.5 H914"/>
<path d="M1586.5 742 V1504.5 H1643"/>
<path d="M1592 828.5 H1649"/>
<path d="M1589 1055 H1646"/>
<path d="M1589 1306.5 H1644"/>
</g>

<g class="t" fill="#02A596" text-anchor="middle">
<text x="499.2" y="770.3" font-size="31" textLength="189.4" lengthAdjust="spacingAndGlyphs" stroke="#02A596" stroke-width="0.6">TeM5DC-HU</text>
<text x="511.7" y="1024" font-size="31" textLength="76.4" lengthAdjust="spacingAndGlyphs" stroke="#02A596" stroke-width="0.6">TGCZ</text>
<text x="495" y="1287.3" font-size="31" textLength="192.3" lengthAdjust="spacingAndGlyphs" stroke="#02A596" stroke-width="0.6">TGRS3Z-1DT</text>
<text x="966.3" y="806.3" font-size="31" textLength="90.8" lengthAdjust="spacingAndGlyphs" stroke="#02A596" stroke-width="0.6">TGM3</text>
<text x="969.7" y="1051.5" font-size="31" textLength="79.4" lengthAdjust="spacingAndGlyphs" stroke="#02A596" stroke-width="0.6">TGB3</text>
<text x="979" y="1349.5" font-size="31" textLength="82.8" lengthAdjust="spacingAndGlyphs" stroke="#02A596" stroke-width="0.6">TGU3</text>
<text x="1742" y="710" font-size="31" textLength="90.3" lengthAdjust="spacingAndGlyphs" stroke="#02A596" stroke-width="0.6">TGM3</text>
<text x="1743" y="929" font-size="31" textLength="79.2" lengthAdjust="spacingAndGlyphs" stroke="#02A596" stroke-width="0.6">TGB3</text>
<text x="1743.9" y="1192.8" font-size="31" textLength="75.3" lengthAdjust="spacingAndGlyphs" stroke="#02A596" stroke-width="0.6">RT16</text>
<text x="1753.7" y="1402.6" font-size="31" textLength="81.7" lengthAdjust="spacingAndGlyphs" stroke="#02A596" stroke-width="0.6">TGU3</text>
<text x="499.5" y="807" font-size="30" stroke="#02A596" stroke-width="0.7" transform="translate(0,807) scale(1,0.93) translate(0,-807)">直流塑壳断路器</text>
<text x="509.5" y="1061" font-size="30" stroke="#02A596" stroke-width="0.7" transform="translate(0,1061) scale(1,0.93) translate(0,-1061)">高压直流接触器</text>
<text x="494.3" y="1324" font-size="30" stroke="#02A596" stroke-width="0.7" transform="translate(0,1324) scale(1,0.93) translate(0,-1324)">直流熔断器</text>
<text x="966.5" y="843" font-size="30" stroke="#02A596" stroke-width="0.7" transform="translate(0,843) scale(1,0.93) translate(0,-843)">塑壳断路器</text>
<text x="969.6" y="1089" font-size="30" stroke="#02A596" stroke-width="0.7" transform="translate(0,1089) scale(1,0.93) translate(0,-1089)">小型断路器</text>
<text x="980" y="1386.5" font-size="30" stroke="#02A596" stroke-width="0.7" transform="translate(0,1386.5) scale(1,0.93) translate(0,-1386.5)">浪涌保护器</text>
<text x="1742.9" y="746.5" font-size="30" stroke="#02A596" stroke-width="0.7" transform="translate(0,746.5) scale(1,0.93) translate(0,-746.5)">塑壳断路器</text>
<text x="1743.3" y="966" font-size="30" stroke="#02A596" stroke-width="0.7" transform="translate(0,966) scale(1,0.93) translate(0,-966)">小型断路器</text>
<text x="1743.4" y="1230" font-size="30" stroke="#02A596" stroke-width="0.7" transform="translate(0,1230) scale(1,0.93) translate(0,-1230)">熔断器</text>
<text x="1754.1" y="1439.4" font-size="30" stroke="#02A596" stroke-width="0.7" transform="translate(0,1439.4) scale(1,0.93) translate(0,-1439.4)">浪涌保护器</text>
</g>
</svg>
</body></html>
